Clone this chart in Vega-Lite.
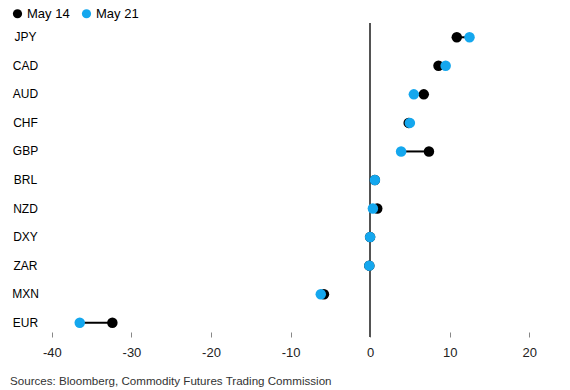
{
  "$schema": "https://vega.github.io/schema/vega-lite/v6.json",
  "width": 525,
  "height": 314,
  "autosize": {"type": "none"},
  "padding": {"left": 36, "top": 23, "right": 9, "bottom": 53},
  "background": "white",
  "config": {"view": {"stroke": null}, "font": "Liberation Sans"},
  "data": {
    "values": [
      {"currency": "JPY", "May 14": 10.9, "May 21": 12.5},
      {"currency": "CAD", "May 14": 8.6, "May 21": 9.5},
      {"currency": "AUD", "May 14": 6.75, "May 21": 5.5},
      {"currency": "CHF", "May 14": 4.85, "May 21": 5.0},
      {"currency": "GBP", "May 14": 7.4, "May 21": 3.9},
      {"currency": "BRL", "May 14": 0.6, "May 21": 0.6},
      {"currency": "NZD", "May 14": 0.9, "May 21": 0.35},
      {"currency": "DXY", "May 14": 0.0, "May 21": 0.0},
      {"currency": "ZAR", "May 14": -0.1, "May 21": -0.1},
      {"currency": "MXN", "May 14": -5.8, "May 21": -6.2},
      {"currency": "EUR", "May 14": -32.4, "May 21": -36.5}
    ]
  },
  "title": {
    "text": "Sources: Bloomberg, Commodity Futures Trading Commission",
    "orient": "bottom",
    "anchor": "start",
    "frame": "group",
    "dx": -26,
    "offset": 17,
    "fontSize": 11.6,
    "fontWeight": "normal",
    "color": "#333333",
    "font": "Liberation Sans"
  },
  "layer": [
    {
      "mark": {"type": "rule", "color": "#555555", "strokeWidth": 1},
      "encoding": {
        "x": {"datum": 0, "type": "quantitative", "scale": {"domain": [-42, 24], "nice": false, "zero": false}}
      }
    },
    {
      "mark": {"type": "rule", "color": "#000000", "strokeWidth": 2},
      "encoding": {
        "y": {"field": "currency", "type": "nominal", "sort": null},
        "x": {"field": "May 14", "type": "quantitative"},
        "x2": {"field": "May 21"}
      }
    },
    {
      "transform": [{"fold": ["May 14", "May 21"], "as": ["date", "value"]}],
      "mark": {"type": "circle", "opacity": 1, "size": 110},
      "encoding": {
        "y": {
          "field": "currency",
          "type": "nominal",
          "sort": null,
          "axis": {
            "title": null,
            "domain": false,
            "ticks": false,
            "tickSize": 0,
            "labelAlign": "center",
            "labelPadding": 11,
            "labelFontSize": 12,
            "labelColor": "#000000",
            "labelFont": "Liberation Sans"
          }
        },
        "x": {
          "field": "value",
          "type": "quantitative",
          "axis": {
            "title": null,
            "domain": false,
            "grid": false,
            "values": [-40, -30, -20, -10, 0, 10, 20],
            "tickColor": "#888888",
            "tickSize": 5,
            "offset": -5,
            "labelPadding": 9,
            "labelFontSize": 13,
            "labelColor": "#222222",
            "labelFont": "Liberation Sans",
            "labelExpr": "'' + datum.value"
          }
        },
        "color": {
          "field": "date",
          "type": "nominal",
          "scale": {"domain": ["May 14", "May 21"], "range": ["#000000", "#14A7EE"]},
          "legend": {
            "title": null,
            "orient": "none",
            "legendX": -25,
            "legendY": -16,
            "direction": "horizontal",
            "padding": 0,
            "symbolType": "circle",
            "symbolSize": 85,
            "symbolStrokeWidth": 0,
            "symbolOpacity": 1,
            "labelFontSize": 13,
            "labelColor": "#000000",
            "labelFont": "Liberation Sans",
            "labelOffset": 3,
            "columnPadding": 10
          }
        }
      }
    }
  ]
}
